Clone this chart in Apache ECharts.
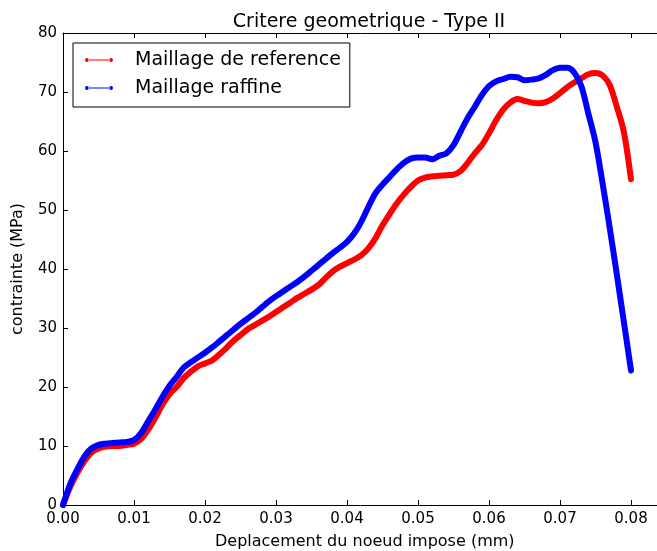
<!DOCTYPE html>
<html>
<head>
<meta charset="utf-8">
<script src="https://cdn.jsdelivr.net/npm/echarts@6/dist/echarts.min.js"></script>
<style>
  html, body { margin: 0; padding: 0; background: #fff; }
  #chart { width: 657px; height: 551px; }
</style>
</head>
<body>
<div id="chart"></div>
<script>
// Displacement of the loaded node (mm) and stress (MPa) for both meshes
const dispRef = [0,0.001,0.002,0.003,0.004,0.005,0.006,0.007,0.008,0.009,0.010,0.011,0.012,0.013,0.014,0.015,0.016,0.017,0.018,0.019,0.020,0.021,0.022,0.023,0.024,0.025,0.026,0.027,0.028,0.029,0.030,0.031,0.032,0.033,0.034,0.035,0.036,0.037,0.038,0.039,0.040,0.041,0.042,0.043,0.044,0.045,0.046,0.047,0.048,0.049,0.050,0.051,0.052,0.053,0.054,0.055,0.056,0.057,0.058,0.059,0.060,0.061,0.062,0.063,0.064,0.065,0.066,0.067,0.068,0.069,0.070,0.071,0.072,0.073,0.074,0.075,0.076,0.077,0.078,0.079,0.080];
const stressRef = [0,3.0,5.4,7.4,8.9,9.6,9.9,10.0,10.0,10.2,10.4,11.2,12.8,14.8,17.0,18.8,20.0,21.5,22.6,23.5,24.0,24.5,25.5,26.6,27.8,28.8,29.8,30.5,31.2,31.9,32.7,33.5,34.3,35.1,35.8,36.5,37.3,38.5,39.6,40.4,41.0,41.6,42.3,43.5,45.2,47.4,49.3,51.1,52.6,53.9,55.0,55.5,55.7,55.8,55.9,56.0,56.6,58.0,59.6,61.0,63.0,65.2,67.0,68.2,68.8,68.5,68.2,68.1,68.3,68.9,69.8,70.8,71.6,72.3,73.0,73.2,72.8,71.2,67.5,63.2,55.2];

const dispFine = [0,0.001,0.002,0.003,0.004,0.005,0.006,0.007,0.008,0.009,0.010,0.011,0.012,0.013,0.014,0.015,0.016,0.017,0.018,0.019,0.020,0.021,0.022,0.023,0.024,0.025,0.026,0.027,0.028,0.029,0.030,0.031,0.032,0.033,0.034,0.035,0.036,0.037,0.038,0.039,0.040,0.041,0.042,0.043,0.044,0.045,0.046,0.047,0.048,0.049,0.050,0.051,0.052,0.053,0.054,0.055,0.056,0.057,0.058,0.059,0.060,0.061,0.062,0.063,0.064,0.065,0.066,0.067,0.068,0.069,0.070,0.071,0.072,0.073,0.074,0.075,0.076,0.077,0.078,0.079,0.080];
const stressFine = [0,3.5,6.0,8.2,9.6,10.2,10.4,10.5,10.6,10.7,11.0,12.2,14.2,16.2,18.3,20.2,21.7,23.3,24.2,25.0,25.8,26.7,27.7,28.7,29.7,30.7,31.6,32.5,33.5,34.5,35.4,36.2,37.0,37.8,38.7,39.7,40.7,41.7,42.7,43.6,44.6,46.0,48.0,50.5,52.8,54.3,55.6,56.9,58.0,58.7,58.9,58.9,58.6,59.2,59.6,61.0,63.3,65.6,67.5,69.5,71.0,71.8,72.2,72.6,72.5,72.0,72.1,72.3,72.9,73.7,74.1,74.1,73.3,71.0,66.3,61.5,54.5,47.0,39.1,31.0,22.8];

const xTicks = [0,0.01,0.02,0.03,0.04,0.05,0.06,0.07,0.08];
const yTicks = [0,10,20,30,40,50,60,70,80];

const seriesNames = ['Maillage de reference', 'Maillage raffine'];
const seriesColors = ['#ff0000', '#0000ff'];

const pairs = (xs, ys) => xs.map((x, i) => [x, ys[i]]);

const FONT = 'DejaVu Sans';
const legendIcon = 'path://M0,2a2,2 0 1,0 4,0a2,2 0 1,0 -4,0Z M3,1.5L25,1.5L25,2.5L3,2.5Z M24,2a2,2 0 1,0 4,0a2,2 0 1,0 -4,0Z';

const chart = echarts.init(document.getElementById('chart'), null, { renderer: 'canvas' });

const xCommon = {
  type: 'value',
  min: 0,
  max: 0.085,
  interval: 0.01,
  splitLine: { show: false },
  axisLine: { show: true, onZero: false, lineStyle: { color: '#000', width: 1 } },
  axisTick: { show: true, inside: true, length: 5, lineStyle: { color: '#000' } }
};

chart.setOption({
  animation: false,
  backgroundColor: '#fff',
  title: {
    text: 'Critere geometrique - Type II',
    left: 364,
    top: 8,
    textAlign: 'center',
    textStyle: { fontFamily: FONT, fontSize: 19, fontWeight: 'normal', color: '#000' }
  },
  grid: { left: 63, top: 33, width: 603.5, bottom: 46, containLabel: false, outerBoundsMode: 'none' },
  legend: {
    orient: 'vertical',
    left: 73,
    top: 43,
    padding: [6, 9, 8, 12],
    itemGap: 6,
    itemWidth: 28,
    itemHeight: 4,
    borderColor: '#000',
    borderWidth: 1,
    borderRadius: 0,
    icon: legendIcon,
    textStyle: { fontFamily: FONT, fontSize: 19, color: '#000', padding: [0, 0, 0, 17], lineHeight: 22 },
    data: seriesNames
  },
  xAxis: [
    Object.assign({}, xCommon, {
      position: 'bottom',
      name: 'Deplacement du noeud impose (mm)',
      nameLocation: 'middle',
      nameGap: 29,
      nameTextStyle: { fontFamily: FONT, fontSize: 16, color: '#000' },
      axisLabel: {
        show: true, margin: 7, showMaxLabel: false,
        fontFamily: FONT, fontSize: 15, color: '#000',
        formatter: v => xTicks.some(t => Math.abs(t - v) < 1e-9) ? v.toFixed(2) : ''
      }
    }),
    Object.assign({}, xCommon, {
      position: 'top',
      axisLabel: { show: false }
    })
  ],
  yAxis: {
    type: 'value',
    min: yTicks[0],
    max: yTicks[yTicks.length - 1],
    interval: 10,
    name: 'contrainte (MPa)',
    nameLocation: 'middle',
    nameGap: 37,
    nameRotate: 90,
    nameTextStyle: { fontFamily: FONT, fontSize: 16, color: '#000' },
    splitLine: { show: false },
    axisLine: { show: true, lineStyle: { color: '#000', width: 1 } },
    axisTick: { show: true, inside: true, length: 5, lineStyle: { color: '#000' } },
    axisLabel: { margin: 6, fontFamily: FONT, fontSize: 15, color: '#000' }
  },
  series: [
    {
      name: seriesNames[0],
      type: 'line',
      data: pairs(dispRef, stressRef),
      showSymbol: false,
      smooth: 0.3,
      color: seriesColors[0],
      lineStyle: { width: 6, color: seriesColors[0], cap: 'round', join: 'round' },
      z: 2
    },
    {
      name: seriesNames[1],
      type: 'line',
      data: pairs(dispFine, stressFine),
      showSymbol: false,
      smooth: 0.3,
      color: seriesColors[1],
      lineStyle: { width: 6, color: seriesColors[1], cap: 'round', join: 'round' },
      z: 3
    }
  ]
});
</script>
</body>
</html>
